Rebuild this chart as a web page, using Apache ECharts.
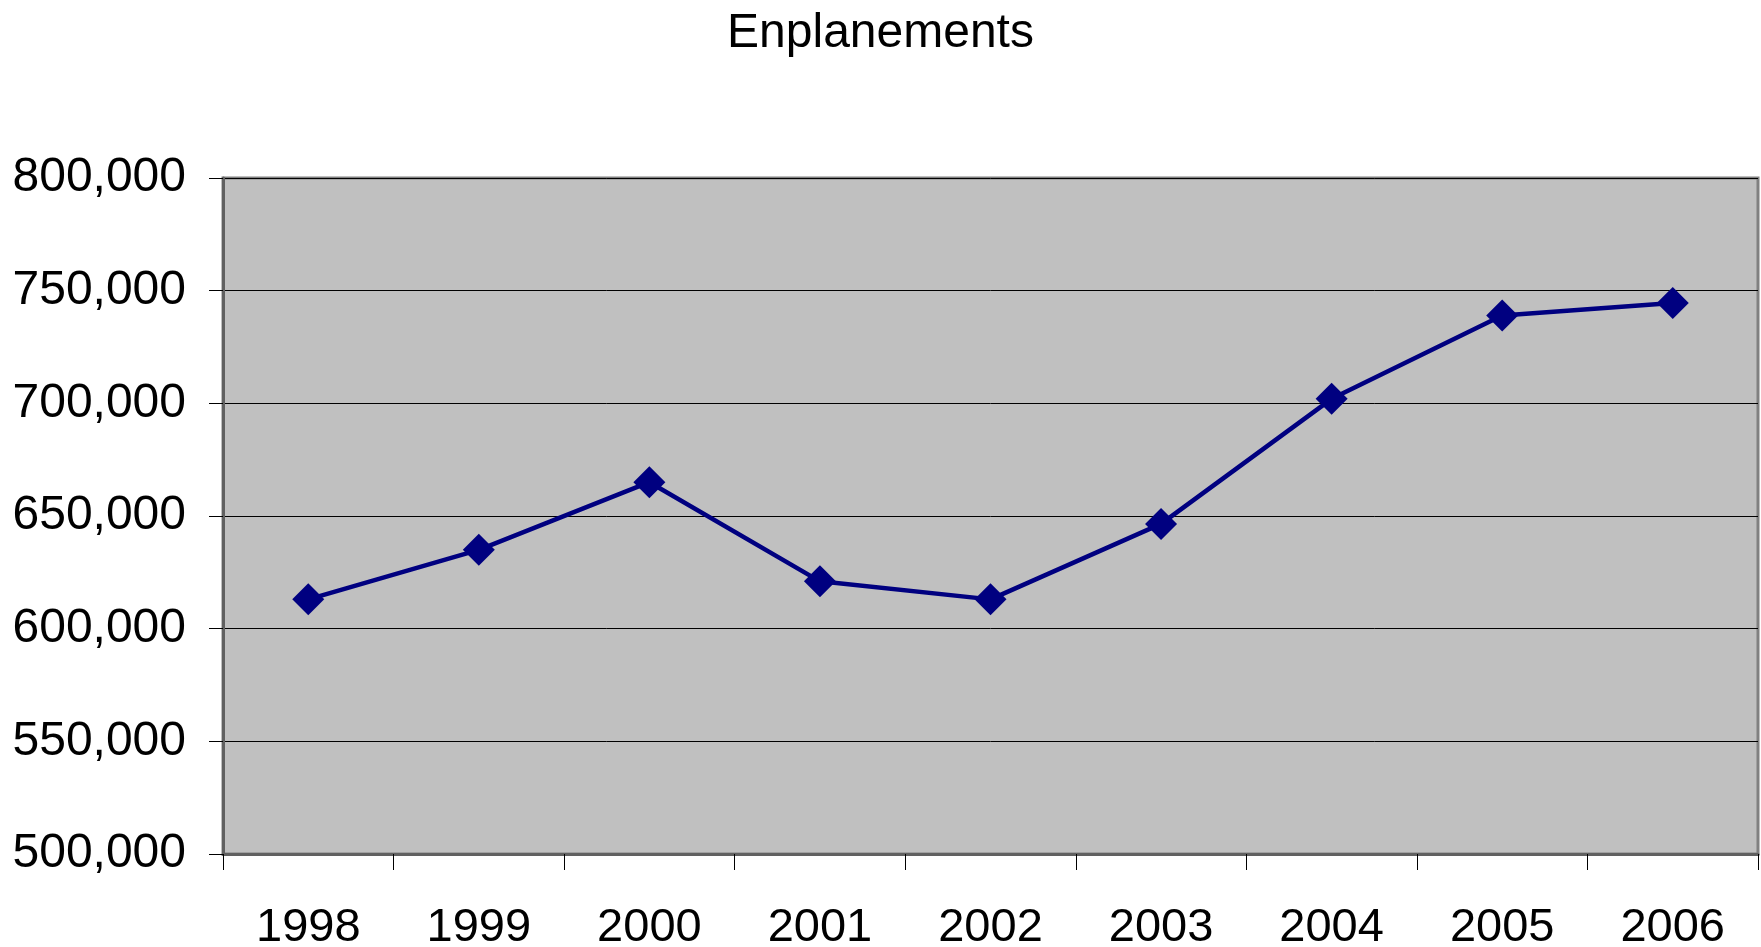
<!DOCTYPE html>
<html>
<head>
<meta charset="utf-8">
<script src="https://cdn.jsdelivr.net/npm/echarts@6/dist/echarts.min.js"></script>
<style>
html,body{margin:0;padding:0;background:#fff;}
#chart{width:1761px;height:947px;}
</style>
</head>
<body>
<div id="chart"></div>
<script>
const titleText = "Enplanements";
const years = ["1998","1999","2000","2001","2002","2003","2004","2005","2006"];
const enplanements = [613000, 635000, 665000, 621000, 613000, 646500, 702000, 739000, 744500];
const yMin = 500000, yMax = 800000, yStep = 50000;

const chart = echarts.init(document.getElementById('chart'), null, {renderer: 'canvas'});
const font = '"Liberation Sans", Arial, sans-serif';
chart.setOption({
  animation: false,
  backgroundColor: '#ffffff',
  title: {
    text: titleText,
    left: 'center',
    top: 5,
    textStyle: {fontFamily: font, fontSize: 48, fontWeight: 'normal', color: '#000'}
  },
  grid: {
    left: 223, right: 3, top: 178, bottom: 93,
    containLabel: false,
    outerBoundsMode: 'none',
    show: true,
    backgroundColor: '#C0C0C0',
    borderColor: '#808080',
    borderWidth: 3
  },
  xAxis: {
    type: 'category',
    data: years,
    boundaryGap: true,
    axisLine: {show: true, lineStyle: {color: '#606060', width: 3}},
    axisTick: {show: true, length: 16, alignWithLabel: false, lineStyle: {color: '#000', width: 1}},
    axisLabel: {fontFamily: font, fontSize: 47, color: '#000', margin: 51},
    splitLine: {show: false}
  },
  yAxis: {
    type: 'value',
    min: yMin, max: yMax, interval: yStep,
    axisLine: {show: true, lineStyle: {color: '#606060', width: 3}},
    axisTick: {show: true, length: 14, lineStyle: {color: '#000', width: 1}},
    axisLabel: {
      fontFamily: font, fontSize: 48, color: '#000', margin: 37,
      formatter: v => v.toLocaleString('en-US')
    },
    splitLine: {show: true, lineStyle: {color: '#000', width: 1}}
  },
  series: [{
    type: 'line',
    data: enplanements,
    symbol: 'diamond',
    symbolSize: 32,
    lineStyle: {color: '#000080', width: 4.5},
    itemStyle: {color: '#000080'}
  }]
});
</script>
</body>
</html>
